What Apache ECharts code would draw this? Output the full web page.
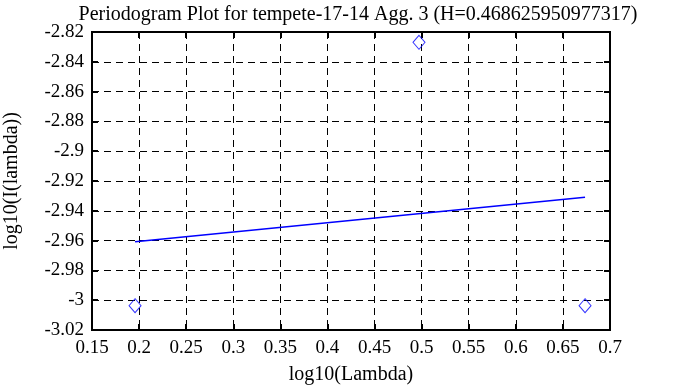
<!DOCTYPE html>
<html>
<head>
<meta charset="utf-8">
<script src="https://cdn.jsdelivr.net/npm/echarts@6/dist/echarts.min.js"></script>
<style>html,body{margin:0;padding:0;background:#fff;}#c{width:673px;height:387px;}</style>
</head>
<body>
<div id="c"></div>
<script>
var titleText = 'Periodogram Plot for tempete-17-14 Agg. 3 (H=0.468625950977317)';
var pointX = [0.1957, 0.4972, 0.6735];
var pointY = [-3.0037, -2.8269, -3.0037];
var fitX = [0.1957, 0.6735];
var fitY = [-2.9607, -2.9309];

var chart = echarts.init(document.getElementById('c'));
var font = 'Liberation Serif';
var pts = pointX.map(function(x, i){ return [x, pointY[i]]; });
var fit = fitX.map(function(x, i){ return [x, fitY[i]]; });
var dashed = {show: true, lineStyle: {color: '#000', type: [7, 5], width: 1}};
chart.setOption({
  animation: false,
  backgroundColor: '#fff',
  title: {text: titleText, left: 353, top: 0, textAlign: 'center',
    textStyle: {fontFamily: font, fontSize: 20, fontWeight: 'normal', color: '#000'}},
  grid: {left: 92, right: 63, top: 32, bottom: 57, containLabel: false, outerBoundsMode: 'none',
    show: true, borderColor: '#000', borderWidth: 2, backgroundColor: 'transparent'},
  xAxis: [{
    type: 'value', min: 0.15, max: 0.7, interval: 0.05, position: 'bottom',
    name: 'log10(Lambda)', nameLocation: 'middle', nameGap: 35,
    nameTextStyle: {fontFamily: font, fontSize: 20, color: '#000'},
    axisLine: {show: true, lineStyle: {color: '#000', width: 2}},
    axisTick: {show: true, inside: true, length: 6, lineStyle: {color: '#000', width: 2}},
    axisLabel: {fontFamily: font, fontSize: 19, color: '#000', margin: 9},
    splitLine: dashed
  }, {
    type: 'value', min: 0.15, max: 0.7, interval: 0.05, position: 'top',
    axisLine: {show: false},
    axisTick: {show: true, inside: true, length: 6, lineStyle: {color: '#000', width: 2}},
    axisLabel: {show: false}, splitLine: {show: false}
  }],
  yAxis: [{
    type: 'value', min: -3.02, max: -2.82, interval: 0.02, position: 'left',
    name: 'log10(I(lambda))', nameLocation: 'middle', nameGap: 70, nameRotate: 90,
    nameTextStyle: {fontFamily: font, fontSize: 20, color: '#000'},
    axisLine: {show: true, lineStyle: {color: '#000', width: 2}},
    axisTick: {show: true, inside: true, length: 6, lineStyle: {color: '#000', width: 2}},
    axisLabel: {fontFamily: font, fontSize: 19, color: '#000', margin: 8},
    splitLine: dashed
  }, {
    type: 'value', min: -3.02, max: -2.82, interval: 0.02, position: 'right',
    axisLine: {show: false},
    axisTick: {show: true, inside: true, length: 6, lineStyle: {color: '#000', width: 2}},
    axisLabel: {show: false}, splitLine: {show: false}
  }],
  series: [{
    type: 'line', data: fit, xAxisIndex: 0, yAxisIndex: 0,
    showSymbol: false, symbol: 'none',
    lineStyle: {color: '#0000ff', width: 1.5}, z: 3
  }, {
    type: 'scatter', data: pts, xAxisIndex: 0, yAxisIndex: 0,
    symbol: 'diamond', symbolSize: [12, 14],
    itemStyle: {color: 'rgba(0,0,0,0)', borderColor: '#0000ff', borderWidth: 1}, z: 4
  }]
});
</script>
</body>
</html>
